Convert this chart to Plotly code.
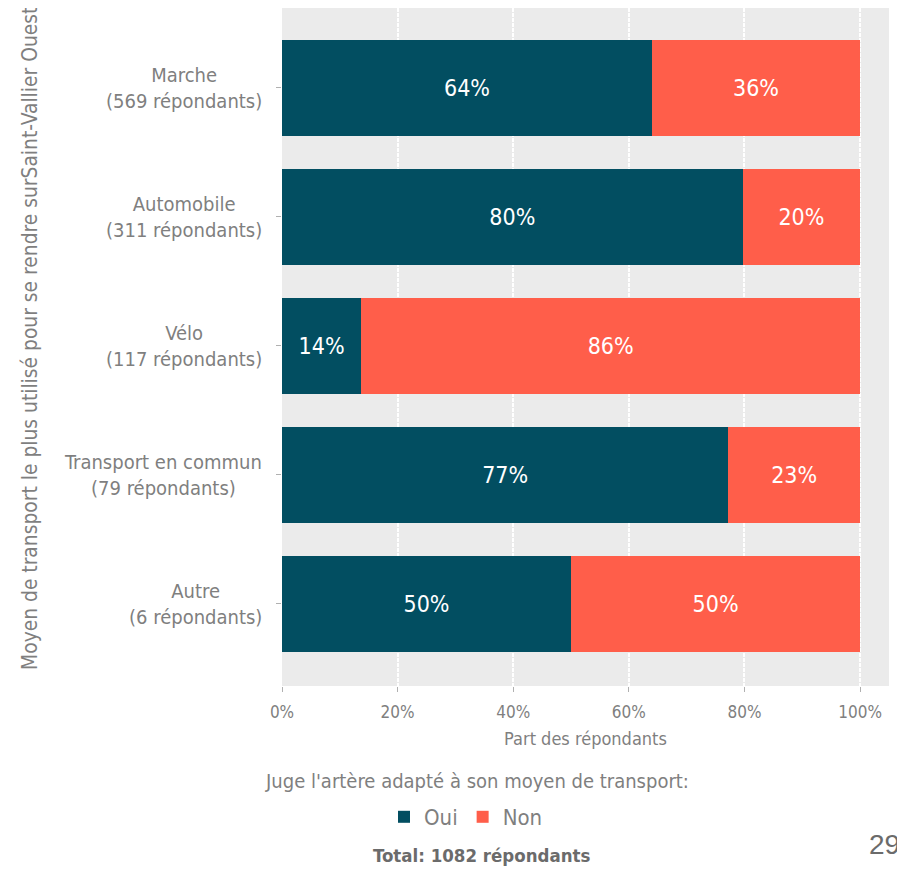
import plotly.graph_objects as go

categories = ["Marche", "Automobile", "Vélo", "Transport en commun", "Autre"]
respondents = [569, 311, 117, 79, 6]
share_oui = [0.64, 0.797, 0.137, 0.772, 0.50]
share_non = [0.36, 0.203, 0.863, 0.228, 0.50]
series_names = ["Oui", "Non"]
x_ticks = [0, 0.2, 0.4, 0.6, 0.8, 1.0]
x_tick_labels = ["0%", "20%", "40%", "60%", "80%", "100%"]

FONT = "DejaVu Sans Condensed, DejaVu Sans, sans-serif"
GRAY = "#7f7f7f"
C_OUI = "#024e61"
C_NON = "#ff5e4a"

fig = go.Figure()
for name, vals, col in [(series_names[0], share_oui, C_OUI), (series_names[1], share_non, C_NON)]:
    fig.add_trace(go.Bar(
        y=categories, x=vals, name=name, orientation="h",
        marker=dict(color=col, line=dict(width=0)),
        width=0.745,
        text=[f"{round(v*100)}%" for v in vals],
        textposition="inside", insidetextanchor="middle",
        textfont=dict(family=FONT, size=23, color="white"),
        hoverinfo="x+y+name",
    ))

# Category labels (centered multi-line)
for c, n in zip(categories, respondents):
    fig.add_annotation(
        x=-0.0297, xref="paper", y=c, yref="y",
        text=f"{c}<br>({n} répondants)", showarrow=False,
        xanchor="right", yanchor="middle", align="center",
        font=dict(family=FONT, size=20, color=GRAY),
    )

# Y axis title
fig.add_annotation(
    x=-0.415, xref="paper", y=0.512, yref="paper",
    text="Moyen de transport le plus utilisé pour se rendre surSaint-Vallier Ouest",
    textangle=-90, showarrow=False, xanchor="center", yanchor="middle",
    font=dict(family=FONT, size=20.8, color=GRAY),
)

# Legend title
fig.add_annotation(
    x=0.321, xref="paper", y=-0.140, yref="paper",
    text="Juge l'artère adapté à son moyen de transport:", showarrow=False,
    xanchor="center", yanchor="middle",
    font=dict(family=FONT, size=20, color=GRAY),
)

# Total
fig.add_annotation(
    x=0.328, xref="paper", y=-0.2507, yref="paper",
    text="<b>Total: 1082 répondants</b>", showarrow=False,
    xanchor="center", yanchor="middle",
    font=dict(family=FONT, size=18.5, color="#6b6b6b"),
)

# Page number
fig.add_annotation(
    x=1.021, xref="paper", y=-0.234, yref="paper",
    text="29", showarrow=False, xanchor="right", yanchor="middle",
    font=dict(family="Liberation Sans, Arial, sans-serif", size=28, color="#6b6b6b"),
)

fig.update_layout(
    width=897, height=861,
    margin=dict(l=274, r=16, t=0, b=183),
    barmode="stack",
    paper_bgcolor="white", plot_bgcolor="#ebebeb",
    font=dict(family=FONT, color=GRAY),
    legend=dict(
        orientation="h", xref="container", yref="container",
        x=0.5106, y=0.0604, xanchor="center", yanchor="middle",
        font=dict(family=FONT, size=22, color=GRAY),
        traceorder="normal", itemwidth=30,
    ),
    xaxis=dict(
        range=[0, 1.05], tickvals=x_ticks, ticktext=x_tick_labels,
        showgrid=True, gridcolor="white", gridwidth=1.5, griddash="4px,1px",
        zeroline=False, ticks="outside", ticklen=5, tickcolor="#b0b0b0",
        ticklabelstandoff=6,
        tickfont=dict(family=FONT, size=17, color=GRAY),
        title=dict(text="Part des répondants", standoff=10,
                   font=dict(family=FONT, size=18, color=GRAY)),
        fixedrange=True,
    ),
    yaxis=dict(
        categoryorder="array", categoryarray=categories,
        range=[4.636, -0.620], showticklabels=False,
        ticks="outside", ticklen=5, tickcolor="#b0b0b0",
        showgrid=False, zeroline=False, fixedrange=True,
    ),
)

fig.write_html("out.html")
